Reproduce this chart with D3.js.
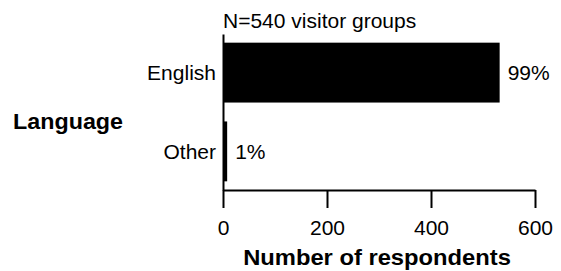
<!DOCTYPE html>
<html>
<head>
<meta charset="utf-8">
<script src="https://cdn.jsdelivr.net/npm/d3@7"></script>
<style>
  body { margin: 0; background: #fff; }
  svg { display: block; font-family: "Liberation Sans", Arial, sans-serif; }
</style>
</head>
<body>
<svg width="561" height="271"></svg>
<script>
// data
const categories = ["English", "Other"];
const counts = [532, 8];
const percents = ["99%", "1%"];
const xTicks = [0, 200, 400, 600];

const svg = d3.select("svg");

const x = d3.scaleLinear().domain([0, 600]).range([223, 535]);
const y = d3.scaleBand().domain(categories).range([34, 190])
    .paddingInner(0.24).paddingOuter(0.11);

// bars
svg.append("g")
    .selectAll("rect")
    .data(categories)
    .join("rect")
    .attr("x", x(0))
    .attr("y", d => y(d))
    .attr("width", (d, i) => x(counts[i]) - x(0))
    .attr("height", y.bandwidth())
    .attr("fill", "#000");

// x axis
const xAxis = svg.append("g")
    .attr("transform", `translate(0,${y.range()[1]})`)
    .call(d3.axisBottom(x).tickValues(xTicks).tickSize(18).tickSizeOuter(0).tickPadding(12));
xAxis.select(".domain").attr("stroke-width", 2);
xAxis.selectAll(".tick line").attr("stroke-width", 2);
xAxis.selectAll(".tick text").attr("font-size", 21).attr("font-family", "Liberation Sans, Arial, sans-serif");

// y axis line
const yAxis = svg.append("g")
    .attr("transform", `translate(${x(0)},0)`)
    .call(d3.axisLeft(y).tickSize(0).tickFormat(""));
yAxis.select(".domain").attr("stroke-width", 2);

// category labels
svg.append("g")
    .selectAll("text")
    .data(categories)
    .join("text")
    .attr("x", x(0) - 7)
    .attr("y", d => y(d) + y.bandwidth() / 2)
    .attr("dy", "0.35em")
    .attr("text-anchor", "end")
    .attr("font-size", 21)
    .text(d => d);

// value labels
svg.append("g")
    .selectAll("text")
    .data(categories)
    .join("text")
    .attr("x", (d, i) => x(counts[i]) + 8)
    .attr("y", d => y(d) + y.bandwidth() / 2)
    .attr("dy", "0.35em")
    .attr("font-size", 21)
    .text((d, i) => percents[i]);

// N label
svg.append("text")
    .attr("x", x(0))
    .attr("y", 28)
    .attr("font-size", 21)
    .text("N=540 visitor groups");

// axis titles
svg.append("text")
    .attr("transform", "translate(13,129) scale(1.06,1)")
    .attr("font-size", 22)
    .attr("font-weight", "bold")
    .text("Language");

svg.append("text")
    .attr("transform", "translate(377,265) scale(1.08,1)")
    .attr("text-anchor", "middle")
    .attr("font-size", 22)
    .attr("font-weight", "bold")
    .text("Number of respondents");
</script>
</body>
</html>
